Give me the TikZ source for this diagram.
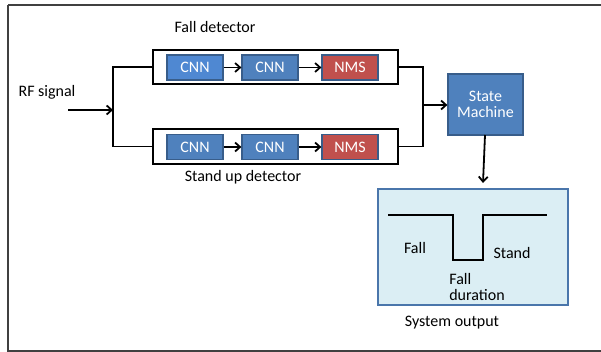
\documentclass[tikz,border=0pt]{standalone}
\usepackage{fontspec}
\setmainfont{Carlito}
\usetikzlibrary{arrows.meta}
\definecolor{cnnA}{HTML}{4F88D2}
\definecolor{cnnB}{HTML}{4F81BD}
\definecolor{nmsR}{HTML}{C0504D}
\definecolor{bord}{HTML}{385D8A}
\definecolor{outfill}{HTML}{DBEEF4}
\definecolor{outbord}{HTML}{4A76AB}
\tikzset{
  blk/.style={draw=bord, line width=1.2pt, minimum width=56pt, minimum height=25pt, inner sep=0pt, text=white},
  grp/.style={draw=black, line width=1.8pt},
  wire/.style={draw=black, line width=1.8pt},
  arr/.style={wire, -{Straight Barb[length=5pt,width=9pt,line width=1.8pt]}},
  lbl/.style={inner sep=0pt, text=black},
  every node/.style={font=\fontsize{16}{18}\selectfont}
}
\begin{document}
\begin{tikzpicture}[x=1pt,y=-1pt]
\useasboundingbox (0,0) rectangle (601,352);
\draw[draw=black!75, line width=1.4pt] (8,5) -- (604,5) (8,5) -- (8,351) -- (604,351);
% group boxes
\node[grp, minimum width=245pt, minimum height=34pt, inner sep=0pt] (top) at (275.5,67) {};
\node[grp, minimum width=245pt, minimum height=35pt, inner sep=0pt] (bot) at (275.5,146.5) {};
\node[lbl] (fd) at (215,27) {Fall detector};
\node[lbl] (sd) at (243,177) {Stand up detector};
% blocks
\node[blk, fill=cnnA] (c1) at (195,67.5) {CNN};
\node[blk, fill=cnnB] (c2) at (270,67.5) {CNN};
\node[blk, fill=nmsR] (n1) at (350,67.5) {NMS};
\node[blk, fill=cnnB] (c3) at (195,147) {CNN};
\node[blk, fill=cnnB] (c4) at (270,147) {CNN};
\node[blk, fill=nmsR] (n2) at (350,147) {NMS};
\draw[arr] (c1) -- (c2);
\draw[arr] (c2) -- (n1);
\draw[arr] (c3) -- (c4);
\draw[arr] (c4) -- (n2);
% input
\node[lbl] (rf) at (47,92) {RF signal};
\coordinate (in) at (68,110);
\coordinate (split) at (113,110);
\draw[arr] (in) -- (split);
\draw[wire] (top.west) -| (split) |- (bot.west);
% state machine
\node[draw=bord, line width=1.2pt, fill=cnnB, minimum width=75pt, minimum height=61pt, inner sep=0pt, text=white, align=center] (sm) at (485.5,104.5) {State\\[-2pt]Machine};
\coordinate (merge) at (423,105);
\draw[wire] (top.east) -| (merge) |- (bot.east);
\draw[arr] (merge) -- (sm.west |- merge);
% output
\node[draw=outbord, line width=1.4pt, fill=outfill, minimum width=190pt, minimum height=116pt, inner sep=0pt] (out) at (473,247) {};
\coordinate (smb) at (485,135);
\coordinate (outt) at (483,183);
\draw[arr] (smb) -- (outt);
\coordinate (w0) at (388,215);
\draw[wire] (w0) -- (453,215) -- (453,260) -- (483,260) -- (483,215) -- (547,215);
\node[lbl] (fall) at (415,248) {Fall};
\node[lbl] (stand) at (512,253) {Stand};
\node[lbl, align=left] (dur) at (477,287) {Fall\\[-2pt]duration};
\node[lbl] (so) at (452,323) {System output};
\end{tikzpicture}
\end{document}
